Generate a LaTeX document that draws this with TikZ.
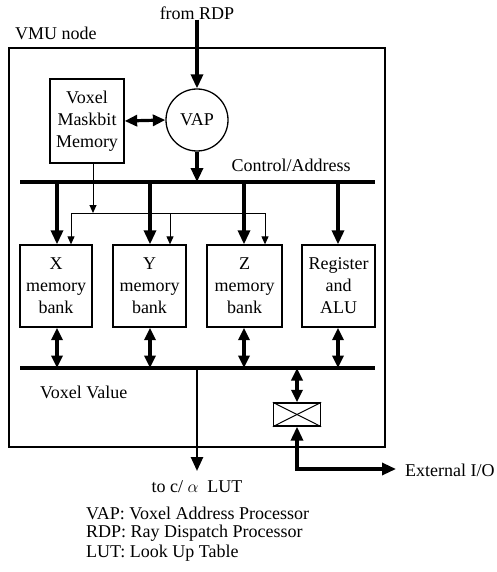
\documentclass[tikz,border=0pt]{standalone}
\usepackage{fontspec}
\setmainfont{Liberation Serif}
\usetikzlibrary{arrows.meta,calc}
\begin{document}
\begin{tikzpicture}[x=1pt,y=-1pt,
  txt/.style={font=\fontsize{18}{23}\selectfont, inner sep=0pt},
  blk/.style={draw, line width=1.3pt, align=center, minimum width=73pt, minimum height=82pt, inner sep=1pt, font=\fontsize{18}{22}\selectfont},
  bus/.style={line width=3.6pt},
  thk/.style={line width=3.2pt, -{Triangle[length=14pt,width=12pt]}},
  dbl/.style={line width=3.2pt, {Triangle[length=12.5pt,width=11pt]}-{Triangle[length=12.5pt,width=11pt]}},
  thn/.style={line width=1pt, -{Triangle[length=8pt,width=7pt]}}
]
\useasboundingbox (0,0) rectangle (496,572);
% outer frame
\draw[line width=2pt] (9,48) rectangle (385,447);
\node[txt, anchor=west] (vmu) at (15,33) {VMU node};
\node[txt] (rdp) at (197,13) {from RDP};
% VAP and maskbit memory
\node[draw, circle, line width=1.3pt, minimum size=62pt, txt] (vap) at (197,120) {VAP};
\node[blk, minimum width=74pt, minimum height=84pt] (vmm) at (87,121) {Voxel\\Maskbit\\Memory};
\draw[thk] (rdp.south) -- (vap.north);
\draw[dbl] (vmm.east) -- (vap.west);
% buses
\coordinate (ca1) at (20,182);
\coordinate (ca2) at (375,182);
\coordinate (vv1) at (20,368);
\coordinate (vv2) at (375,368);
\draw[bus] (ca1) -- (ca2);
\draw[bus] (vv1) -- (vv2);
\node[txt] (cal) at (291,165) {Control/Address};
\node[txt, anchor=west] (vvl) at (40,392) {Voxel Value};
\draw[thk] (vap.south) -- (vap.south |- ca1);
% memory banks
\node[blk, minimum width=72pt] (xb) at (56,286) {X\\memory\\bank};
\node[blk] (yb) at (149.5,286) {Y\\memory\\bank};
\node[blk, minimum width=75pt] (zb) at (244.5,286) {Z\\memory\\bank};
\node[blk] (rb) at (338.5,286) {Register\\and\\ALU};
\foreach \b/\xx in {xb/57,yb/150,zb/244,rb/338}{
  \draw[thk] (\xx,182) -- (\xx,0 |- \b.north);
  \draw[dbl] (\xx,0 |- \b.south) -- (\xx,368);
}
% thin mask lines
\coordinate (m0) at ($(vmm.south)+(6,0)$);
\coordinate (m1) at (m0 |- 0,213);
\coordinate (hl) at (71,213);
\coordinate (hr) at (265,213);
\draw[thn] (m0) -- (m1);
\draw[line width=1pt] (hl) -- (hr);
\draw[thn] (hl) -- (hl |- xb.north);
\draw[thn] (170,213) -- (170,0 |- yb.north);
\draw[thn] (hr) -- (hr |- zb.north);
% output to LUT
\node[txt] (lut) at (197,487) {to c/~$\alpha$~ LUT};
\draw[line width=2.6pt, -{Triangle[length=14pt,width=12pt]}] (197,368) -- (197,471);
% switch
\node[draw, line width=1.3pt, minimum width=47pt, minimum height=23pt, inner sep=0pt] (sw) at (297,414.5) {};
\draw[line width=1pt] (sw.north west) -- (sw.south east);
\draw[line width=1pt] (sw.south west) -- (sw.north east);
\draw[dbl] (297,368) -- (sw.north);
\node[txt, anchor=west] (ext) at (405,470) {External I/O};
\coordinate (corner) at (297,469);
\draw[line width=3.2pt, -{Triangle[length=14pt,width=12pt]}] (corner) -- (sw.south);
\draw[line width=3.2pt, -{Triangle[length=14pt,width=12pt]}] ([xshift=-1.6pt]corner) -- (396,469);
% legend
\node[txt, anchor=west] (l1) at (86,513) {VAP: Voxel Address Processor};
\node[txt, anchor=west] (l2) at (86,533) {RDP: Ray Dispatch Processor};
\node[txt, anchor=west] (l3) at (86,553) {LUT: Look Up Table};
\end{tikzpicture}
\end{document}
